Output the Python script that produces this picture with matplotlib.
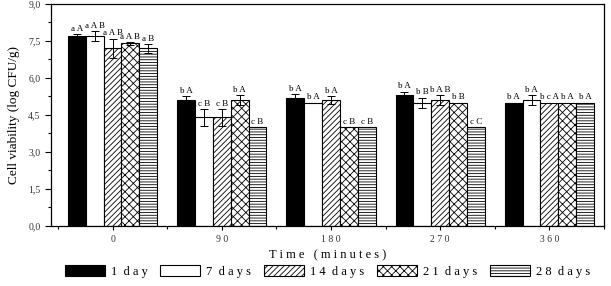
import numpy as np
import matplotlib
matplotlib.use("Agg")
import matplotlib.pyplot as plt
from matplotlib.ticker import FuncFormatter, MultipleLocator

plt.rcParams['font.family'] = ['Liberation Serif', 'DejaVu Serif']
plt.rcParams['hatch.linewidth'] = 0.6

# data
times = ['0', '90', '180', '270', '360']
series = ['1 day', '7 days', '14 days', '21 days', '28 days']
values = [
    [7.7, 5.1, 5.2, 5.3, 5.0],   # 1 day
    [7.7, 4.4, 5.0, 5.0, 5.1],   # 7 days
    [7.2, 4.4, 5.1, 5.1, 5.0],   # 14 days
    [7.4, 5.1, 4.0, 5.0, 5.0],   # 21 days
    [7.2, 4.0, 4.0, 4.0, 5.0],   # 28 days
]
errors = [
    [0.08, 0.15, 0.15, 0.15, 0.0],
    [0.2, 0.35, 0.0, 0.2, 0.2],
    [0.4, 0.35, 0.15, 0.2, 0.0],
    [0.06, 0.2, 0.0, 0.0, 0.0],
    [0.18, 0.0, 0.0, 0.0, 0.0],
]
letters = [
    ['aA', 'bA', 'bA', 'bA', 'bA'],
    ['aAB', 'cB', 'bA', 'bB', 'bA'],
    ['aAB', 'cB', 'bA', 'bAB', 'bcA'],
    ['aAB', 'bA', 'cB', 'bB', 'bA'],
    ['aB', 'cB', 'cB', 'cC', 'bA'],
]
colors = ['black', 'white', 'white', 'white', 'white']
hatches = [None, None, '//////', 'xxxx', '------']

fig = plt.figure(figsize=(6.11, 2.86), dpi=100)
ax = fig.add_axes([0.0835, 0.21, 0.905, 0.776])

def spaced(s):
    # the original uses wide letter spacing
    return ' '.join(s).replace('   ', '  ')

x = np.arange(len(times))
w = 0.1636
for i in range(len(series)):
    pos = x + (i - 2) * w
    ax.bar(pos, values[i], w, color=colors[i], edgecolor='black', linewidth=0.8,
           hatch=hatches[i], label=spaced(series[i]))
    err = np.array(errors[i])
    m = err > 0
    ax.errorbar(pos[m], np.array(values[i])[m], yerr=err[m], fmt='none',
                ecolor='black', elinewidth=0.7, capsize=3, capthick=0.7)
    for j in range(len(times)):
        top = values[i][j] + errors[i][j]
        ax.text(pos[j], top + 0.05, ' '.join(letters[i][j]), ha='center', va='bottom',
                fontsize=6.5)

ax.set_xlim(-0.5636, 4.4636)
ax.set_ylim(0, 9)
ax.set_xticks(x)
ax.set_xticklabels([' '.join(t) for t in times], fontsize=7)
ax.set_xticks(np.arange(-0.5, 4.6, 1), minor=True)
ax.yaxis.set_major_locator(MultipleLocator(1.5))
ax.yaxis.set_minor_locator(MultipleLocator(0.75))
ax.yaxis.set_major_formatter(FuncFormatter(lambda v, p: ('%.1f' % v).replace('.', ',')))
ax.tick_params(axis='y', labelsize=7, length=4, width=0.8, colors='black', labelcolor='#333333')
ax.tick_params(axis='y', which='minor', length=2.5, width=0.8)
ax.tick_params(axis='x', length=3, width=0.8, labelcolor='#333333')
ax.tick_params(axis='x', which='minor', length=2, width=0.8)
for s in ax.spines.values():
    s.set_linewidth(0.9)

ax.set_xlabel('T i m e   ( m i n u t e s )', fontsize=9, labelpad=4)
ax.set_ylabel('Cell viability (log CFU/g)', fontsize=9.5, labelpad=6)

ax.legend(loc='center', bbox_to_anchor=(0.5, -0.205), ncol=5, frameon=False,
          fontsize=9, handlelength=3.2, handleheight=1.0, columnspacing=1.0,
          handletextpad=0.5, borderaxespad=0, borderpad=0)

fig.savefig('out.png', dpi=100)
